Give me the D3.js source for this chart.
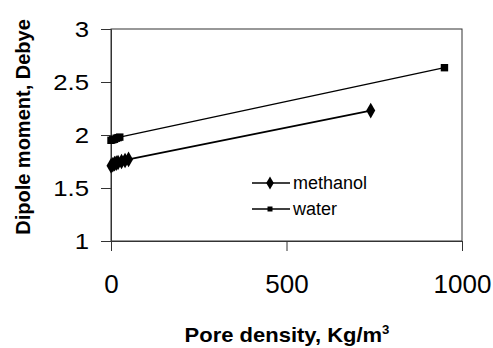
<!DOCTYPE html>
<html><head><meta charset="utf-8">
<script src="https://cdn.jsdelivr.net/npm/d3@7"></script>
<style>body{margin:0;background:#fff}svg{display:block}text{font-family:"Liberation Sans",Arial,sans-serif}</style>
</head><body>
<svg id="c" width="493" height="348"></svg>
<script>
const methanolX = [0, 5, 10, 15, 20, 30, 40, 50, 740];
const methanolY = [1.71, 1.72, 1.73, 1.735, 1.74, 1.75, 1.76, 1.77, 2.23];
const waterX = [0, 5, 10, 15, 20, 25, 950];
const waterY = [1.95, 1.955, 1.96, 1.97, 1.975, 1.98, 2.635];
const xTicks = [0, 500, 1000];
const yTicks = [1, 1.5, 2, 2.5, 3];
const seriesNames = ["methanol", "water"];

const svg = d3.select("#c");
const L = 111, R = 462, T = 29, B = 241;
const x = d3.scaleLinear().domain([0, 1000]).range([L, R]);
const y = d3.scaleLinear().domain([1, 3]).range([B, T]);

svg.append("rect").attr("x", L).attr("y", T).attr("width", R - L).attr("height", B - T)
  .attr("fill", "none").attr("stroke", "#333").attr("stroke-width", 1);

const yAxis = svg.append("g").attr("transform", `translate(${L},0)`)
  .call(d3.axisLeft(y).tickValues(yTicks).tickSize(10).tickPadding(12).tickFormat(d3.format("")));
yAxis.select(".domain").attr("stroke", "#333");
yAxis.selectAll(".tick line").attr("stroke", "#333");
yAxis.selectAll("text").attr("font-size", 23).attr("fill", "#000")
  .attr("x", 0).attr("transform", "translate(-22,0) scale(1.12,1)");

const xAxis = svg.append("g").attr("transform", `translate(0,${B})`)
  .call(d3.axisBottom(x).tickValues(xTicks).tickSize(10).tickPadding(24).tickFormat(d3.format("")));
xAxis.select(".domain").attr("stroke", "#333");
xAxis.selectAll(".tick line").attr("stroke", "#333");
xAxis.selectAll("text").attr("font-size", 26).attr("fill", "#000");

const line = d3.line().x(d => x(d[0])).y(d => y(d[1]));
const mData = methanolX.map((v, i) => [v, methanolY[i]]);
const wData = waterX.map((v, i) => [v, waterY[i]]);

svg.append("path").datum(mData).attr("d", line).attr("fill", "none").attr("stroke", "#000").attr("stroke-width", 1.6);
svg.append("path").datum(wData).attr("d", line).attr("fill", "none").attr("stroke", "#000").attr("stroke-width", 1.3);

const diamond = d3.symbol().type(d3.symbolDiamond).size(70);
const square = d3.symbol().type(d3.symbolSquare).size(55);

svg.selectAll(".m").data(mData).enter().append("path")
  .attr("transform", d => `translate(${x(d[0])},${y(d[1])})`).attr("d", diamond).attr("fill", "#000");
svg.selectAll(".w").data(wData).enter().append("path")
  .attr("transform", d => `translate(${x(d[0])},${y(d[1])})`).attr("d", square).attr("fill", "#000");

// legend
const leg = [{n: seriesNames[0], y: 183, sym: d3.symbol().type(d3.symbolDiamond).size(50), w: 1.6},
             {n: seriesNames[1], y: 209, sym: d3.symbol().type(d3.symbolSquare).size(25), w: 1.3}];
leg.forEach(l => {
  svg.append("line").attr("x1", 252).attr("x2", 290).attr("y1", l.y).attr("y2", l.y).attr("stroke", "#000").attr("stroke-width", l.w);
  svg.append("path").attr("transform", `translate(270,${l.y})`).attr("d", l.sym).attr("fill", "#000");
  svg.append("text").attr("x", 293).attr("y", l.y + 6).attr("font-size", 18).text(l.n);
});

svg.append("text").attr("transform", "translate(30,127) rotate(-90)").attr("text-anchor", "middle")
  .attr("font-size", 20).attr("font-weight", "bold").text("Dipole moment, Debye");

const xt = svg.append("text").attr("transform", "translate(287,342) scale(1.1,1)").attr("text-anchor", "middle")
  .attr("font-size", 20).attr("font-weight", "bold");
xt.append("tspan").text("Pore density, Kg/m");
xt.append("tspan").attr("font-size", 12).attr("dy", -8).text("3");
</script>
</body></html>
